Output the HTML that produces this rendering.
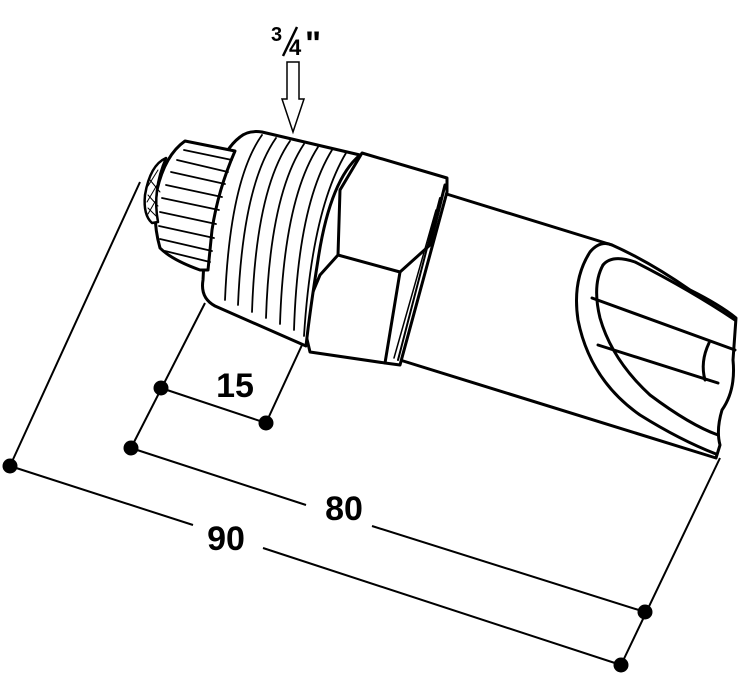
<!DOCTYPE html>
<html><head><style>body{margin:0;background:#fff}svg{display:block}</style></head>
<body>
<svg width="747" height="682" viewBox="0 0 747 682" xmlns="http://www.w3.org/2000/svg" font-family="Liberation Sans, sans-serif" font-weight="bold">
<rect width="747" height="682" fill="#fff"/>
<g stroke="#000" stroke-width="2" fill="none">
<line x1="10" y1="466" x2="140" y2="182"/>
<line x1="621" y1="665" x2="720" y2="458"/>
<line x1="131" y1="448" x2="205" y2="303"/>
<line x1="266" y1="423" x2="302" y2="345"/>
<line x1="161" y1="388" x2="266" y2="423"/>
<line x1="131" y1="448" x2="306" y2="505"/>
<line x1="372" y1="526" x2="645" y2="612"/>
<line x1="10" y1="466" x2="193" y2="525"/>
<line x1="263" y1="548" x2="621" y2="665"/>
</g>
<g fill="#000">
<circle cx="10" cy="466" r="7.5"/><circle cx="131" cy="448" r="7.5"/>
<circle cx="161" cy="388" r="7.5"/><circle cx="266" cy="423" r="7.5"/>
<circle cx="645" cy="612" r="7.5"/><circle cx="621" cy="665" r="7.5"/>
</g>
<g font-size="34" text-anchor="middle">
<text x="235" y="397">15</text>
<text x="344" y="520">80</text>
<text x="226" y="550">90</text>
</g>
<text x="271" y="41" font-size="20">3</text>
<line x1="283" y1="56" x2="297" y2="27" stroke="#000" stroke-width="2.5"/>
<text x="289" y="55" font-size="22">4</text>
<text x="305" y="55" font-size="34">"</text>
<path d="M287 62 H299 V99 H304 L293 132 L282 99 H287 Z" fill="#fff" stroke="#000" stroke-width="1.5"/>
<g stroke="#000" stroke-width="3" fill="#fff" stroke-linejoin="round" stroke-linecap="round">
<path d="M440 192 L612 245 Q650 262 690 290 Q720 305 736 318 L733 360 Q736 390 722 410 Q716 430 720 445 L716 458 L400 360 Z"/>
<path d="M612 245 Q600 240 590 252 Q572 280 578 320 Q590 380 640 415 Q680 440 716 454" fill="none"/>
<path d="M603 265 Q592 285 600 318 Q612 360 650 395 Q690 425 718 435" fill="none"/>
<path d="M603 265 Q612 254 635 262 Q690 290 735 320" fill="none"/>
<line x1="592" y1="298" x2="735" y2="350"/>
<line x1="598" y1="345" x2="718" y2="383"/>
<path d="M709 343 Q700 362 705 380" fill="none"/>
<path d="M362 153 L447 178 L447 192 L400 365 L385 363 L310 352 L302 318 L320 275 L338 255 L340 190 Z"/>
<path d="M338 255 L400 272 L430 245 L445 185" fill="none"/>
<line x1="400" y1="272" x2="385" y2="363"/>
<path d="M440 198 L398 360" fill="none" stroke-width="2"/>
<path d="M436 210 L394 358" fill="none" stroke-width="1.5"/>
<path d="M240 137 Q248 130 262 132 L360 155 Q330 180 318 260 Q310 310 306 346 L215 306 Q200 298 203 280 L205 240 Q210 160 240 137 Z"/>
<g fill="none" stroke-width="1.8">
<path d="M262 135 Q230 180 225 300"/>
<path d="M276 138 Q243 185 238 305"/>
<path d="M290 141 Q256 190 252 312"/>
<path d="M304 144 Q270 195 266 318"/>
<path d="M318 147 Q284 200 280 324"/>
<path d="M332 150 Q298 205 294 330"/>
<path d="M346 153 Q312 210 304 336"/>
</g>
<path d="M185 141 L235 151 Q218 190 212 230 L208 270 L200 270 Q172 260 160 248 Q152 220 157 190 Q165 155 185 141 Z"/>
<g stroke-width="1.8" fill="none">
<line x1="184" y1="150" x2="232" y2="160"/><line x1="177" y1="160" x2="228" y2="172"/>
<line x1="171" y1="172" x2="225" y2="184"/><line x1="166" y1="185" x2="222" y2="197"/>
<line x1="162" y1="198" x2="219" y2="210"/><line x1="160" y1="212" x2="216" y2="224"/>
<line x1="159" y1="226" x2="214" y2="238"/><line x1="160" y1="239" x2="212" y2="251"/>
<line x1="165" y1="251" x2="210" y2="262"/>
</g>
<path d="M166 158 Q150 165 145 195 Q143 215 152 223 L158 222 Q152 190 166 158 Z" stroke-width="2.5"/>
<path d="M150 180 L160 192 M148 195 L158 206 M148 208 L156 216 M158 170 L148 186 M157 185 L147 202 M156 200 L148 214" stroke-width="1" fill="none"/>
</g>
</svg>
</body></html>
